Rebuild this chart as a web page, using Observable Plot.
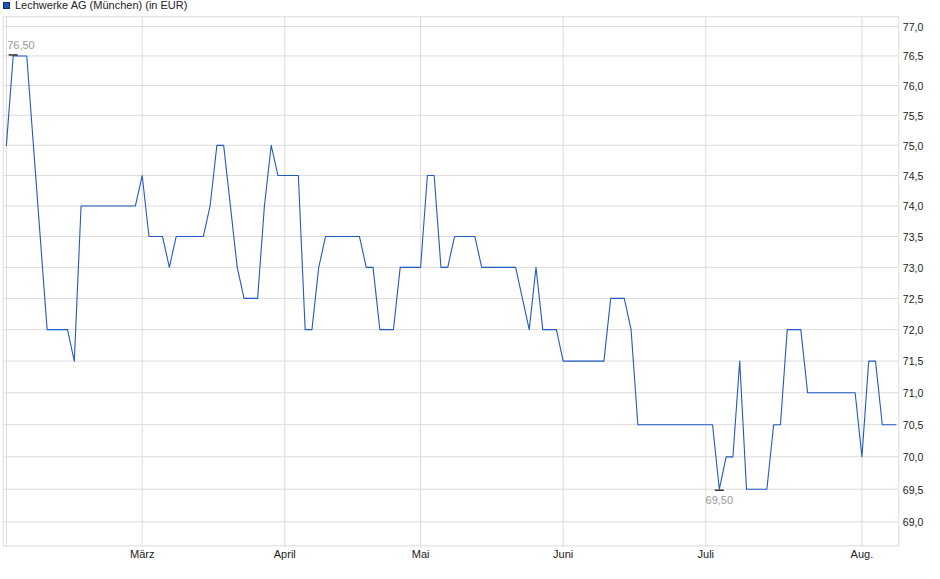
<!DOCTYPE html>
<html>
<head>
<meta charset="utf-8">
<script src="https://cdn.jsdelivr.net/npm/d3@7"></script>
<script src="https://cdn.jsdelivr.net/npm/@observablehq/plot@0.6"></script>
<style>
  html, body { margin: 0; padding: 0; background: #fff; }
  #wrap { position: relative; width: 940px; height: 579px; font-family: "Liberation Sans", Arial, sans-serif; }
  #title { position: absolute; left: 3px; top: -1px; font-size: 11px; line-height: 13px; color: #222; display: flex; align-items: center; white-space: nowrap; }
  #title .sw { display: inline-block; width: 5px; height: 5px; background: #1f56b8; border: 1px solid #0d2c6e; margin-right: 5px; }
  #chart svg { display: block; }
</style>
</head>
<body>
<div id="wrap">
  <div id="chart"></div>
  <div id="title"><span class="sw"></span>Lechwerke AG (München) (in EUR)</div>
</div>
<script>
// Trading-day index (0 = first trading day of February) at each turning point of the line
const tradingDay = [0, 1, 3, 6, 9, 10, 11, 19, 20, 21, 23, 24, 25, 29, 30, 31, 32, 34, 35, 37, 38, 39, 40, 43, 44, 45, 46, 47, 52, 53, 54, 55, 57, 58, 61, 62, 63, 64, 65, 66, 69, 70, 75, 77, 78, 79, 81, 82, 88, 89, 91, 92, 93, 104, 105, 106, 107, 108, 109, 112, 113, 114, 115, 117, 118, 125, 126, 127, 128, 129, 131];
// Price in EUR at those points
const price = [75.0, 76.5, 76.5, 72.0, 72.0, 71.5, 74.0, 74.0, 74.5, 73.5, 73.5, 73.0, 73.5, 73.5, 74.0, 75.0, 75.0, 73.0, 72.5, 72.5, 74.0, 75.0, 74.5, 74.5, 72.0, 72.0, 73.0, 73.5, 73.5, 73.0, 73.0, 72.0, 72.0, 73.0, 73.0, 74.5, 74.5, 73.0, 73.0, 73.5, 73.5, 73.0, 73.0, 72.0, 73.0, 72.0, 72.0, 71.5, 71.5, 72.5, 72.5, 72.0, 70.5, 70.5, 69.5, 70.0, 70.0, 71.5, 69.5, 69.5, 70.5, 70.5, 72.0, 72.0, 71.0, 71.0, 70.0, 71.5, 71.5, 70.5, 70.5];

// Month gridlines (trading-day index of first trading day of each month)
const monthDay = [0, 20, 41, 61, 82, 103, 126];
const monthLabel = ["", "März", "April", "Mai", "Juni", "Juli", "Aug."];

// Y axis ticks
const yTicks = [69.0, 69.5, 70.0, 70.5, 71.0, 71.5, 72.0, 72.5, 73.0, 73.5, 74.0, 74.5, 75.0, 75.5, 76.0, 76.5, 77.0];

// High / low annotations
const highDay = [1], highPrice = [76.5];
const lowDay = [105], lowPrice = [69.5];

const series = tradingDay.map((d, k) => ({d, p: price[k]}));
const months = monthDay.map((d, k) => ({d, label: monthLabel[k]}));
const highs = highDay.map((d, k) => ({d, p: highPrice[k]}));
const lows = lowDay.map((d, k) => ({d, p: lowPrice[k]}));

const fmt1 = v => v.toFixed(1).replace(".", ",");
const fmt2 = v => v.toFixed(2).replace(".", ",");
const dash = { draw(ctx) { ctx.moveTo(-4.5, 0); ctx.lineTo(4.5, 0); } };

const chart = Plot.plot({
  width: 940,
  height: 579,
  marginTop: 16.3,
  marginBottom: 33.7,
  marginLeft: 2.7,
  marginRight: 41.7,
  style: { fontFamily: "'Liberation Sans', Arial, sans-serif", background: "#fff", color: "#222" },
  x: { domain: [-0.47, 131.43], axis: null, label: null },
  y: { type: "log", domain: [68.634, 77.166], axis: null, label: null },
  marks: [
    Plot.ruleY(yTicks, { stroke: "#dcdcdc", strokeWidth: 1 }),
    Plot.ruleX(months, { x: "d", stroke: "#dcdcdc", strokeWidth: 1 }),
    Plot.frame({ stroke: "#dcdcdc", strokeWidth: 1 }),
    Plot.axisX(monthDay, {
      anchor: "bottom", label: null, tickSize: 2, tickPadding: 2.5, stroke: "#dcdcdc",
      tickFormat: (d) => monthLabel[monthDay.indexOf(d)], fontSize: 11, fill: "#222"
    }),
    Plot.axisY(yTicks, {
      anchor: "right", label: null, tickSize: 0, tickPadding: 4, tickFormat: fmt1,
      fontSize: 10.5, fill: "#222", dy: 1
    }),
    Plot.line(series, { x: "d", y: "p", stroke: "#1f5bc0", strokeWidth: 1.1 }),
    Plot.dot(highs, { x: "d", y: "p", symbol: dash, stroke: "#000", strokeWidth: 1.2, r: 4.5, dy: -1 }),
    Plot.dot(lows, { x: "d", y: "p", symbol: dash, stroke: "#000", strokeWidth: 1.2, r: 4.5, dy: 1 }),
    Plot.text(highs, { x: "d", y: "p", text: d => fmt2(d.p), textAnchor: "start", dx: -6, dy: -10, fill: "#9a9a9a", fontSize: 11 }),
    Plot.text(lows, { x: "d", y: "p", text: d => fmt2(d.p), textAnchor: "middle", dy: 11, fill: "#9a9a9a", fontSize: 11 })
  ]
});
document.getElementById("chart").appendChild(chart);
</script>
</body>
</html>
